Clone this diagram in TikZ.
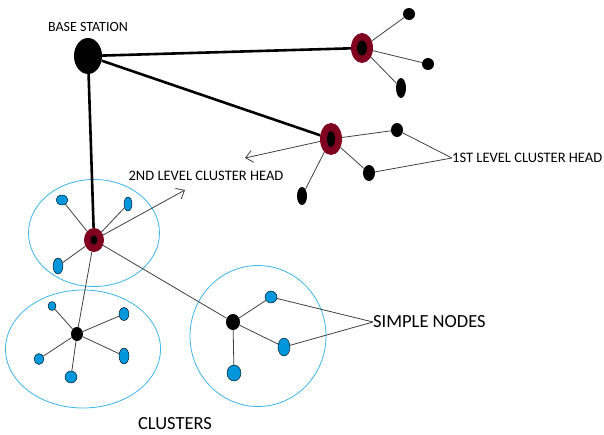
\documentclass[tikz,border=0pt]{standalone}
\usepackage{fontspec}
\setmainfont{Carlito}
\usepackage{tikz}
\usetikzlibrary{arrows.meta}
\usetikzlibrary{shapes.geometric}

\definecolor{headred}{RGB}{128,0,32}
\definecolor{leafblue}{RGB}{0,150,220}
\definecolor{ringblue}{RGB}{60,180,230}

\begin{document}
\begin{tikzpicture}[
        x=1pt, y=-1pt,
        % 
        station node/.style={
            ellipse,
            fill=black,
            inner sep=0pt,
            minimum width=28pt,
            minimum height=36pt,
        },
        % 
        head node/.style={
            ellipse,
            fill=headred,
            inner sep=0pt,
            path picture={
                \fill[black] (path picture bounding box.center) ellipse (#1);
            }
        },
        plain node/.style={
            ellipse,
            fill=black,
            inner sep=0pt,
        },
        leaf node/.style={
            ellipse,
            draw=black,
            thin,
            fill=leafblue,
            inner sep=0pt,
        },
        ring/.style={
            ellipse,
            draw=ringblue,
            line width=0.8pt,
            inner sep=0pt,
        },
        label text/.style={
            font=\fontsize{14.5}{16}\selectfont,
            inner sep=0pt,
        },
        big text/.style={
            font=\fontsize{18.5}{20}\selectfont,
            inner sep=0pt,
        },
        strong edge/.style={line width=2.6pt, black},
        normal edge/.style={line width=0.8pt, black!75},
        pointer edge/.style={line width=0.8pt, black!75, -{Straight Barb[length=7pt,width=12pt]}}
        ]
        \useasboundingbox (0,0) rectangle (604,434);

        % Clusters
        
        \node[ring, minimum width=131pt, minimum height=107pt] (ring1) at (94,233) {};
        \node[ring, minimum width=155pt, minimum height=118pt] (ring2) at (83,349) {};
        \node[ring, minimum width=136pt, minimum height=141pt] (ring3) at (258,336) {};
        
        % Vertices
        
        \node[station node] (BS) at (88,56) {};
        \node[font=\fontsize{14}{16}\selectfont, inner sep=0pt] (BS-label) at (88,27) {BASE STATION};
        
        \node[head node={5pt and 7.5pt}, minimum width=22pt, minimum height=30pt] (CH1) at (362,48) {};
        \node[plain node, minimum width=12pt, minimum height=12pt] (CH1-a) at (409,14) {};
        \node[plain node, minimum width=12pt, minimum height=12pt] (CH1-b) at (428,64) {};
        \node[plain node, minimum width=10pt, minimum height=20pt] (CH1-c) at (401,88) {};
        
        \node[head node={4pt and 8pt}, minimum width=22pt, minimum height=32pt] (CH2) at (331,139) {};
        \node[plain node, minimum width=12pt, minimum height=14pt] (CH2-a) at (397,130) {};
        \node[plain node, minimum width=12pt, minimum height=16pt] (CH2-b) at (369,173) {};
        \node[plain node, minimum width=10pt, minimum height=18pt] (CH2-c) at (302,196) {};
        \coordinate (CH2-tip) at (245,158);
        \node[label text, anchor=west] (first-label) at (452,158) {1ST LEVEL CLUSTER HEAD};
        
        \node[head node={3.5pt and 4.5pt}, minimum width=20pt, minimum height=24pt] (CH3) at (94,240) {};
        \node[leaf node, minimum width=12pt, minimum height=10pt] (CH3-a) at (62,200) {};
        \node[leaf node, minimum width=8pt, minimum height=14pt] (CH3-b) at (128,204) {};
        \node[leaf node, minimum width=10pt, minimum height=16pt] (CH3-c) at (58,266) {};
        \coordinate (CH3-tip) at (185,190);
        \node[label text] (second-label) at (206,176) {2ND LEVEL CLUSTER HEAD};
        
        \node[plain node, minimum width=12pt, minimum height=14pt] (CL2) at (77,334) {};
        \node[leaf node, minimum width=8pt, minimum height=9pt] (CL2-a) at (52,306) {};
        \node[leaf node, minimum width=10pt, minimum height=13pt] (CL2-b) at (124,314) {};
        \node[leaf node, minimum width=10pt, minimum height=11pt] (CL2-c) at (39,359) {};
        \node[leaf node, minimum width=10pt, minimum height=16pt] (CL2-d) at (124,356) {};
        \node[leaf node, minimum width=12pt, minimum height=12pt] (CL2-e) at (71,377) {};
        
        \node[plain node, minimum width=14pt, minimum height=16pt] (CL3) at (233,322) {};
        \node[leaf node, minimum width=12pt, minimum height=12pt] (CL3-a) at (271,297) {};
        \node[leaf node, minimum width=12pt, minimum height=18pt] (CL3-b) at (284,347) {};
        \node[leaf node, minimum width=14pt, minimum height=16pt] (CL3-c) at (234,373) {};
        \node[big text, anchor=west] (simple-label) at (373,322) {SIMPLE NODES};
        
        \node[big text] (clusters-label) at (175,424) {CLUSTERS};
        
        % Edges
        
        \draw[strong edge] (BS) to (CH1);
        \draw[strong edge] (BS) to (CH2);
        \draw[strong edge] (BS) to (CH3);
        %				
        \draw[normal edge] (CH1) to (CH1-a);
        \draw[normal edge] (CH1) to (CH1-b);
        \draw[normal edge] (CH1) to (CH1-c);
        %				
        \draw[normal edge] (CH2) to (CH2-a);
        \draw[normal edge] (CH2) to (CH2-b);
        \draw[normal edge] (CH2) to (CH2-c);
        \draw[pointer edge] (CH2) to (CH2-tip);
        \draw[normal edge] (CH2-a) to (first-label.west);
        \draw[normal edge] (CH2-b) to (first-label.west);
        %				
        \draw[normal edge] (CH3) to (CH3-a);
        \draw[normal edge] (CH3) to (CH3-b);
        \draw[normal edge] (CH3) to (CH3-c);
        \draw[pointer edge] (CH3) to (CH3-tip);
        \draw[normal edge] (CH3) to (CL2);
        \draw[normal edge] (CH3) to (CL3);
        %				
        \draw[normal edge] (CL2) to (CL2-a);
        \draw[normal edge] (CL2) to (CL2-b);
        \draw[normal edge] (CL2) to (CL2-c);
        \draw[normal edge] (CL2) to (CL2-d);
        \draw[normal edge] (CL2) to (CL2-e);
        %				
        \draw[normal edge] (CL3) to (CL3-a);
        \draw[normal edge] (CL3) to (CL3-b);
        \draw[normal edge] (CL3) to (CL3-c);
        \draw[normal edge] (CL3-a) to (simple-label.west);
        \draw[normal edge] (CL3-b) to (simple-label.west);
        % 		
    \end{tikzpicture}
\end{document}
